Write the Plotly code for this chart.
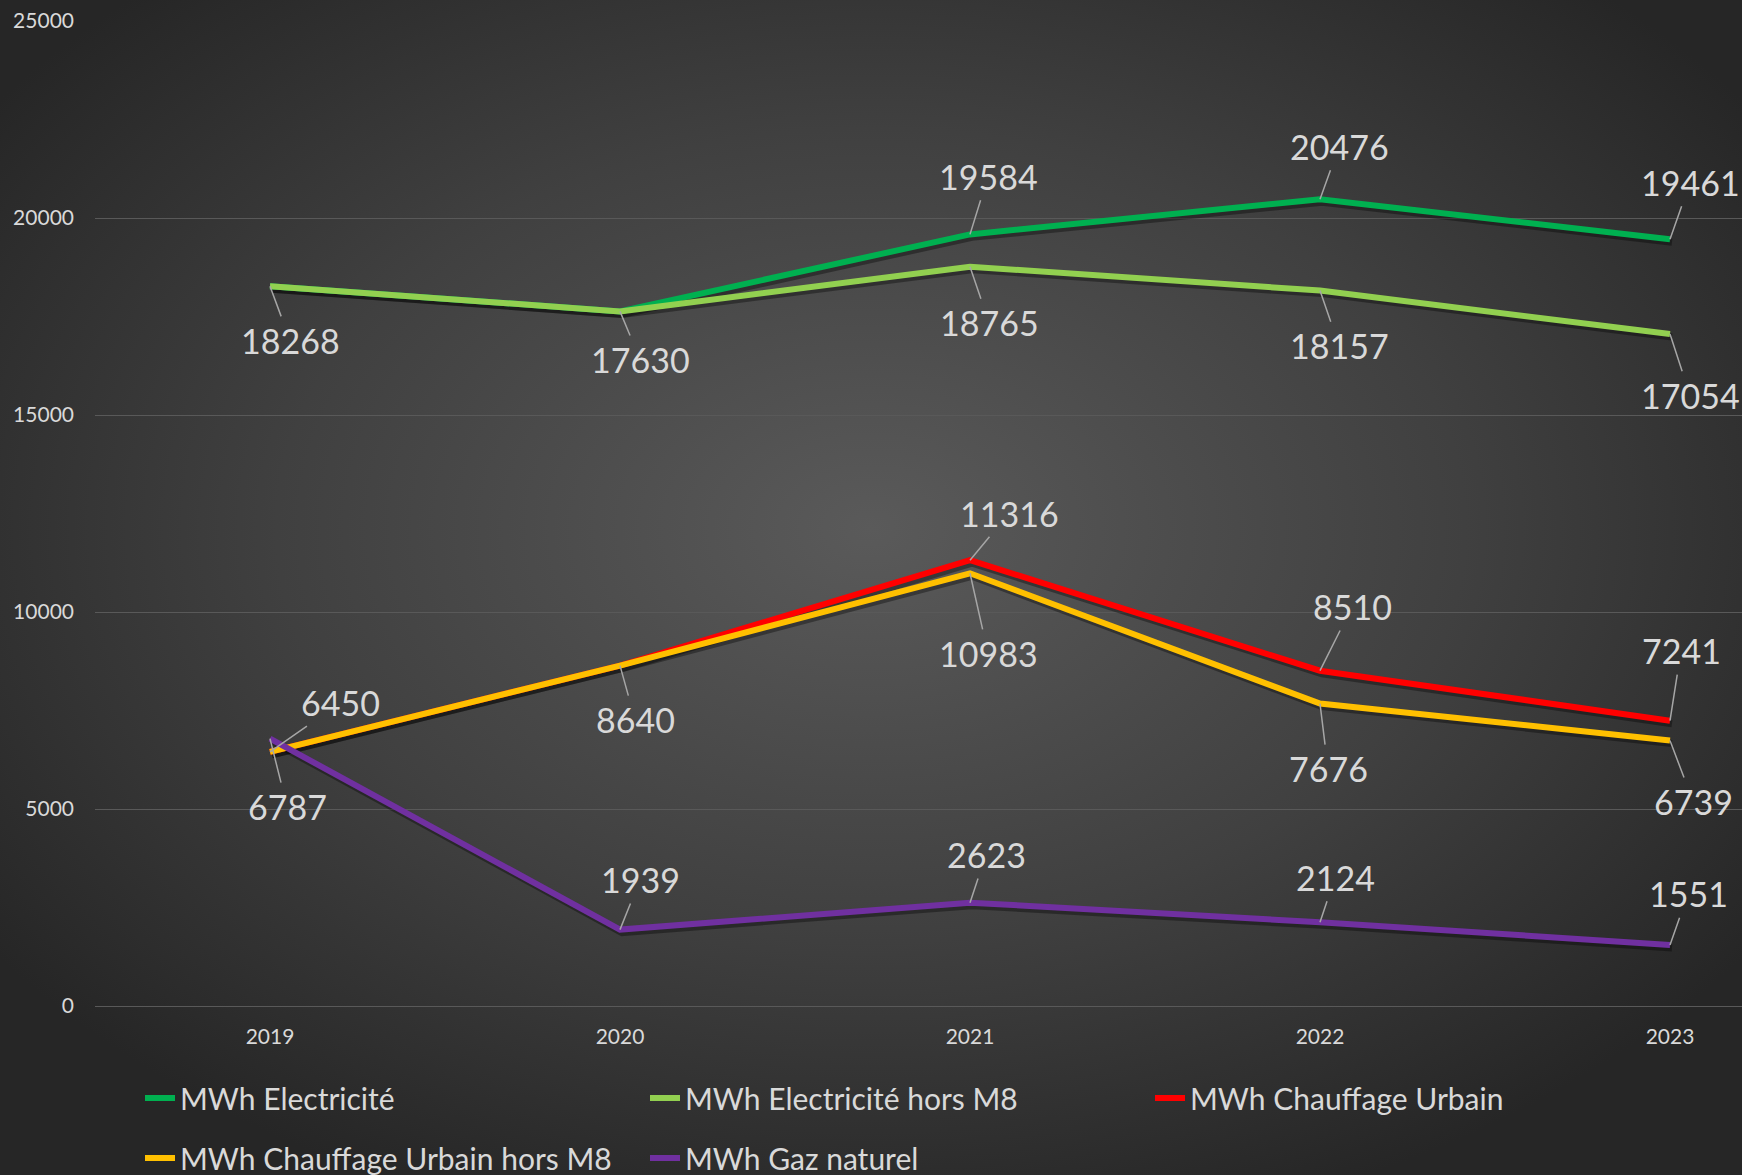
import base64
import plotly.graph_objects as go

# ---------------- data ----------------
years = ["2019", "2020", "2021", "2022", "2023"]
elec = [18268, 17630, 19584, 20476, 19461]
elec_hors_m8 = [18268, 17630, 18765, 18157, 17054]
chauffage = [6450, 8640, 11316, 8510, 7241]
chauffage_hors_m8 = [6450, 8640, 10983, 7676, 6739]
gaz = [6787, 1939, 2623, 2124, 1551]

series_names = ["MWh Electricité", "MWh Electricité hors M8", "MWh Chauffage Urbain",
                "MWh Chauffage Urbain hors M8", "MWh Gaz naturel"]
series_values = [elec, elec_hors_m8, chauffage, chauffage_hors_m8, gaz]
y_tick_values = [0, 5000, 10000, 15000, 20000, 25000]

# ---------------- style ----------------
colors = ["#00B050", "#92D050", "#FF0000", "#FFC000", "#7030A0"]
legend_of = ["legend", "legend", "legend", "legend2", "legend2"]
# which point labels are shown per series, and their pixel offsets (dx, dy) from the point
label_offsets = [
    {2: (18, -58), 3: (19, -53), 4: (20, -57)},
    {0: (20, 54), 1: (20, 48), 2: (19, 56), 3: (19, 55), 4: (20, 61)},
    {2: (39, -47), 3: (32, -64), 4: (11, -70)},
    {0: (70, -49), 1: (15, 54), 2: (18, 80), 3: (8, 65), 4: (23, 61)},
    {0: (17, 68), 1: (20, -50), 2: (16, -48), 3: (15, -45), 4: (18, -51)},
]

W, H = 1742, 1175
ML, MR, MT, MB = 95, 0, 21, 169
PW, PH = W - ML - MR, H - MT - MB
UNIT = 350.0  # px per category
X_RANGE = [-0.5, -0.5 + PW / UNIT]
Y_RANGE = [0, 25000]
SHX, SHY = 2, 3  # shadow offset in px
sx = SHX / UNIT
sy = SHY * (Y_RANGE[1] - Y_RANGE[0]) / PH

FONT = "Lato, 'Liberation Sans', sans-serif"
TXT = "#D9D9D9"

fig = go.Figure()

# shadows (base axes, shifted)
for vals in series_values:
    fig.add_trace(go.Scatter(
        x=years, y=vals, mode="lines", xaxis="x", yaxis="y",
        line=dict(color="rgba(0,0,0,0.35)", width=7),
        showlegend=False, hoverinfo="skip"))

# main lines
for name, vals, col, lg in zip(series_names, series_values, colors, legend_of):
    fig.add_trace(go.Scatter(
        x=years, y=vals, mode="lines", name=name, xaxis="x2", yaxis="y2",
        line=dict(color=col, width=6), legend=lg))

# data labels (category axis -> annotation x uses category index)
for vals, offs in zip(series_values, label_offsets):
    for i, (dx, dy) in offs.items():
        fig.add_annotation(
            x=years.index(years[i]), y=vals[i], xref="x2", yref="y2",
            text=str(vals[i]), showarrow=True, arrowhead=0,
            arrowwidth=1.5, arrowcolor="#A6A6A6", ax=dx, ay=dy,
            startstandoff=2, font=dict(family=FONT, size=34, color=TXT))

# radial gradient background
svg = f'''<svg xmlns="http://www.w3.org/2000/svg" width="{W}" height="{H}" viewBox="0 0 {W} {H}">
<defs><radialGradient id="g" cx="50%" cy="45%" r="62%">
<stop offset="0" stop-color="#5A5A5A"/><stop offset="0.55" stop-color="#404040"/>
<stop offset="1" stop-color="#262626"/></radialGradient></defs>
<rect width="{W}" height="{H}" fill="url(#g)"/></svg>'''
src = "data:image/svg+xml;base64," + base64.b64encode(svg.encode()).decode()
fig.add_layout_image(dict(
    source=src, xref="paper", yref="paper",
    x=-ML / PW, y=1 + MT / PH, sizex=W / PW, sizey=H / PH,
    xanchor="left", yanchor="top", sizing="stretch", layer="below"))

fig.update_layout(
    width=W, height=H,
    margin=dict(l=ML, r=MR, t=MT, b=MB, pad=0, autoexpand=False),
    paper_bgcolor="#333333", plot_bgcolor="rgba(0,0,0,0)",
    font=dict(family=FONT, color=TXT),
    xaxis=dict(type="category", range=[X_RANGE[0] - sx, X_RANGE[1] - sx], visible=False),
    yaxis=dict(range=[Y_RANGE[0] + sy, Y_RANGE[1] + sy], visible=False),
    xaxis2=dict(type="category", overlaying="x", anchor="y2", range=X_RANGE,
                showgrid=False, zeroline=False, showline=False, ticks="",
                tickfont=dict(family=FONT, size=21, color=TXT), ticklabelstandoff=16),
    yaxis2=dict(overlaying="y", anchor="x2", range=Y_RANGE, tickvals=y_tick_values,
                tickformat="d",
                showgrid=True, gridcolor="#595959", gridwidth=1,
                zeroline=True, zerolinecolor="#595959", zerolinewidth=1,
                showline=False, ticks="",
                tickfont=dict(family=FONT, size=21, color=TXT), ticklabelstandoff=20),
    legend=dict(orientation="h", x=(140 - ML) / PW, xanchor="left",
                y=-(1098 - (H - MB)) / PH, yanchor="middle",
                entrywidth=460, entrywidthmode="pixels",
                bgcolor="rgba(0,0,0,0)", font=dict(family=FONT, size=30, color=TXT)),
    legend2=dict(orientation="h", x=(140 - ML) / PW, xanchor="left",
                 y=-(1158 - (H - MB)) / PH, yanchor="middle",
                 entrywidth=460, entrywidthmode="pixels",
                 bgcolor="rgba(0,0,0,0)", font=dict(family=FONT, size=30, color=TXT)),
    showlegend=True,
)

fig.write_html("out.html", config={"displayModeBar": False},
               post_script="document.body.style.margin='0';document.body.style.overflow='hidden';")
